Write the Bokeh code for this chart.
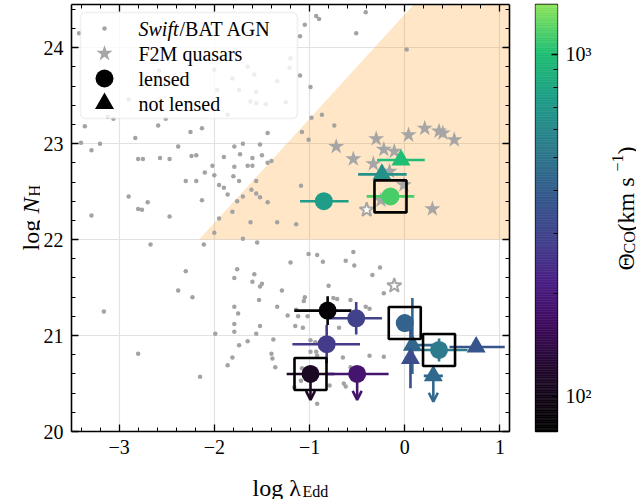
import numpy as np
from bokeh.plotting import figure
from bokeh.layouts import row, column
from bokeh.models import (ColumnDataSource, LinearAxis, SingleIntervalTicker, FixedTicker,
                          BoxAnnotation, Arrow, OpenHead, Range1d, CustomJSTickFormatter, Label)
from bokeh.core.properties import value
from bokeh.transform import log_cmap
from bokeh.embed import file_html
from bokeh.resources import INLINE

# ---------------- data ----------------
bat_x = [-3.42, -3.36, -3.40, -3.20, -3.29, -2.83, -2.59, -2.25, -2.13, -2.38, -1.79, -2.80, -2.75,
         -2.57, -2.47, -2.24, -2.19, -1.90, -1.79, -2.02, -2.10, -2.00, -1.80, -2.30, -2.19, -1.95,
         -1.90, -1.86, -2.13, -2.90, -2.70, -2.80, -2.76, -3.29, -2.47, -1.95, -2.58, -2.00, -1.81,
         -2.90, -3.12, -3.06, -2.51, -1.86, -1.97, -1.74, -1.65, -1.58, -1.20, -1.56, -1.34, -1.62,
         -1.56, -1.46, -1.25, -1.21, -0.93, -0.90, -1.05, -1.10, -0.41, -0.51, 0.02, -1.10, -0.99,
         -0.98, -0.87, -0.74, -1.08, -1.44, -1.01, -1.70, -1.52, -1.73, -1.50, -1.60, -1.65, -1.60,
         -1.44, -1.40, -1.74, -1.56, -1.61, -1.56, -1.52, -1.44, -1.09, -1.70, -1.76, -1.81, -1.62,
         -1.34, -1.14, -1.70, -2.00, -2.11, -1.55, -2.67, -2.30, -2.38, -2.23, -1.76, -1.79, -1.58,
         -1.60, -1.50, -1.52, -1.29, -1.20, -1.01, -0.92, -1.53, -1.79, -1.75, -1.34, -1.23, -1.12,
         -1.02, -1.05, -1.06, -1.15, -1.07, -1.79, -1.79, -1.52, -1.56, -1.99, -1.65, -1.74, -1.38,
         -1.81, -1.86, -1.40, -1.39, -1.36, -2.15, -0.99, -0.94, -0.90, -0.99, -0.93, -0.92, -1.08,
         -1.16, -1.09, -0.92, -3.16, -2.80, -0.86, -0.62, -0.54, -0.53, -0.26, -0.34, -0.80, -0.22,
         -0.75, -0.71, -0.57, -0.41, -0.37, -1.14, -0.69, -0.37, -0.22, -0.78, -0.65, -0.57, -0.64,
         -0.62, -0.79]
bat_y = [24.15, 23.18, 23.01, 23.00, 22.93, 23.06, 23.19, 23.12, 23.16, 22.97, 22.97, 22.84, 22.84,
         22.85, 22.84, 22.87, 22.88, 22.86, 22.76, 22.77, 22.70, 22.67, 22.66, 22.61, 22.61, 22.57,
         22.54, 22.47, 22.41, 22.45, 22.39, 22.32, 22.31, 22.25, 22.24, 22.22, 23.76, 23.77, 23.68,
         23.46, 23.28, 23.26, 23.26, 23.30, 23.56, 23.56, 23.80, 23.72, 23.89, 23.54, 23.65, 23.44,
         23.42, 23.41, 23.43, 23.79, 24.33, 24.30, 24.24, 24.12, 24.37, 24.15, 23.98, 23.71, 23.59,
         23.27, 23.30, 23.19, 23.12, 23.11, 23.04, 23.00, 22.99, 22.89, 22.88, 22.85, 22.77, 22.77,
         22.80, 22.82, 22.61, 22.61, 22.52, 22.48, 22.44, 22.39, 22.56, 22.45, 22.40, 22.29, 22.18,
         22.18, 22.16, 22.01, 22.07, 21.95, 21.97, 21.95, 21.67, 21.47, 21.40, 21.69, 21.60, 21.64,
         21.56, 21.54, 21.51, 21.47, 21.76, 21.85, 21.84, 21.37, 21.30, 21.23, 21.30, 21.21, 21.20,
         21.20, 21.40, 21.36, 21.10, 21.08, 21.12, 21.04, 21.10, 21.02, 21.02, 20.94, 20.90, 20.96,
         20.77, 20.69, 20.81, 20.76, 20.67, 20.57, 20.95, 20.93, 20.92, 20.83, 20.83, 20.79, 20.66,
         20.46, 20.53, 20.29, 21.25, 20.81, 21.77, 21.78, 21.87, 21.73, 21.71, 21.63, 21.52, 21.44,
         21.39, 21.38, 21.37, 21.30, 21.28, 21.27, 21.08, 20.79, 20.78, 20.85, 20.77, 20.67, 20.50,
         20.47, 20.48]

f2m_x = [-0.72, -0.54, -0.30, -0.22, -0.11, -0.33, 0.04, 0.21, 0.36, 0.40, 0.52, 0.29, -0.16, -0.01, -0.25]
f2m_y = [22.97, 22.84, 23.05, 22.94, 22.92, 22.79, 23.09, 23.16, 23.13, 23.11, 23.04, 22.32, 22.71, 22.57, 22.41]
f2m_open_x = [-0.40, -0.11]
f2m_open_y = [22.31, 21.52]

# lensed (circles)
len_x = [-0.81, -0.51, -0.82, -0.99, -0.50, 0.00, 0.36, -0.85, -0.15]
len_y = [21.26, 21.18, 20.91, 20.60, 20.60, 21.13, 20.85, 22.40, 22.45]
len_xlo = [0.35, 0.29, 0.36, 0.25, 0.33, 0.05, 0.32, 0.25, 0.25]
len_xhi = [0.25, 0.27, 0.35, 0.25, 0.33, 0.05, 0.30, 0.26, 0.25]
len_ylo = [0.15, 0.17, 0.20, 0.00, 0.00, 0.09, 0.12, 0.00, 0.00]
len_yhi = [0.15, 0.17, 0.20, 0.00, 0.00, 0.09, 0.12, 0.00, 0.00]
len_theta = [84, 290, 270, 110, 185, 420, 530, 740, 1150]
len_ulim = [False, False, False, True, True, False, False, False, False]
len_box = [False, False, False, True, False, True, True, False, True]

# not lensed (triangles)
nl_x = [-0.04, -0.24, 0.08, 0.06, 0.30, 0.75]
nl_y = [22.83, 22.68, 20.90, 20.76, 20.58, 20.88]
nl_xlo = [0.25, 0.25, 0.05, 0.00, 0.10, 0.28]
nl_xhi = [0.25, 0.26, 0.25, 0.00, 0.10, 0.30]
nl_ylo = [0.00, 0.00, 0.30, 0.31, 0.00, 0.00]
nl_yhi = [0.00, 0.00, 0.49, 0.33, 0.00, 0.00]
nl_theta = [1000, 660, 430, 330, 440, 365]
nl_ulim = [False, False, False, False, True, False]

# forbidden ("blow-out") region
region_x = [-2.16, 0.60, 1.5, 1.5]
region_y = [22.0, 25.0, 25.0, 22.0]

theta_low, theta_high = 79, 1395
cbar_major = [100, 1000]
cbar_minor = [200, 300, 400, 500, 600, 700, 800, 900]

# ---------------- style / layout ----------------
X0, X1 = -3.5, 1.1
Y0, Y1 = 20.0, 24.45
FONT = "Liberation Serif"
ULIM_LEN = 0.27
PAGE_W, PAGE_H = 636, 499
FH = 427
MT = 4
YLAB_W = 40
MAIN_BL, MAIN_FW, MAIN_BR = 31, 438, 4
MAIN_W = MAIN_BL + MAIN_FW + MAIN_BR
MAIN_BB = 33
MAIN_H = MT + FH + MAIN_BB
XLAB_H = PAGE_H - MAIN_H
CB_BL, CB_FW, CB_BR = 22, 22, 41
CB_W = CB_BL + CB_FW + CB_BR
CBLAB_W = PAGE_W - YLAB_W - MAIN_W - CB_W

anchor_t = [0.0, 0.06, 0.15, 0.25, 0.35, 0.44, 0.55, 0.66, 0.78, 0.89, 1.0]
anchor_c = ["#000000", "#0e0510", "#240a30", "#3f0c5e", "#4a1f85", "#433f8c", "#35598d",
            "#2d7a8c", "#1f9d88", "#1fbf72", "#8ae35a"]


def hex2rgb(h):
    return [int(h[i:i + 2], 16) for i in (1, 3, 5)]


rgb = np.array([hex2rgb(c) for c in anchor_c], float)
tt = np.linspace(0, 1, 256)
palette = ["#%02x%02x%02x" % tuple(int(round(np.interp(t, anchor_t, rgb[:, k]))) for k in range(3))
           for t in tt]
cmap = log_cmap("theta", palette, theta_low, theta_high)


def no_align(f):
    try:
        f.frame_align = False
    except Exception:
        pass
    return f


# ================= main panel =================
p = figure(width=MAIN_W, height=MAIN_H, x_range=Range1d(X0, X1), y_range=Range1d(Y0, Y1),
           output_backend="svg", toolbar_location=None, title=None,
           min_border_left=MAIN_BL, min_border_right=MAIN_BR, min_border_top=MT,
           min_border_bottom=MAIN_BB)
no_align(p)
p.outline_line_color = None

ticker = SingleIntervalTicker(interval=1, num_minor_ticks=5)
minus_fmt = CustomJSTickFormatter(code="return tick < 0 ? '\u2212' + Math.abs(tick) : tick.toFixed(0);")
blank_fmt = CustomJSTickFormatter(code="return '';")


def style_axis(ax, labels=True):
    ax.ticker = ticker
    ax.axis_line_width = 1.6
    ax.axis_line_color = "black"
    ax.major_tick_in = 7
    ax.major_tick_out = 0
    ax.minor_tick_in = 4
    ax.minor_tick_out = 0
    ax.major_tick_line_width = 1.3
    ax.minor_tick_line_width = 1.0
    ax.major_tick_line_color = "black"
    ax.minor_tick_line_color = "black"
    ax.major_label_text_font = FONT
    if labels:
        ax.major_label_text_font_size = "20px"
        ax.major_label_text_color = "black"
        ax.formatter = minus_fmt
    else:
        ax.major_label_text_font_size = "1px"
        ax.major_label_text_color = None
        ax.major_label_standoff = 0
        ax.formatter = blank_fmt


style_axis(p.xaxis[0])
style_axis(p.yaxis[0])
p.xaxis[0].major_label_standoff = 8
p.yaxis[0].major_label_standoff = 8
top_ax = LinearAxis()
right_ax = LinearAxis()
style_axis(top_ax, labels=False)
style_axis(right_ax, labels=False)
p.add_layout(top_ax, "above")
p.add_layout(right_ax, "right")
p.grid.ticker = ticker
p.grid.grid_line_color = "#e2e2e2"
p.grid.grid_line_width = 1.2

p.patch(region_x, region_y, fill_color="#ff8c00", fill_alpha=0.22, line_color=None)
p.scatter(bat_x, bat_y, size=4.5, color="#a3a3a3", line_color=None)
p.scatter(f2m_x, f2m_y, marker="star", size=17, fill_color="#a6a6a6", line_color=None)
p.scatter(f2m_open_x, f2m_open_y, marker="star", size=15, fill_color="white", line_color="#a6a6a6",
          line_width=2)


def make_source(x, y, xlo, xhi, ylo, yhi, th):
    x = np.array(x); y = np.array(y)
    return ColumnDataSource(dict(x=x, y=y, x0=x - np.array(xlo), x1=x + np.array(xhi),
                                 y0=y - np.array(ylo), y1=y + np.array(yhi), theta=th))


src_len = make_source(len_x, len_y, len_xlo, len_xhi, len_ylo, len_yhi, len_theta)
src_nl = make_source(nl_x, nl_y, nl_xlo, nl_xhi, nl_ylo, nl_yhi, nl_theta)
for src in (src_len, src_nl):
    p.segment(x0="x0", y0="y", x1="x1", y1="y", source=src, line_color=cmap, line_width=2.6)
    p.segment(x0="x", y0="y0", x1="x", y1="y1", source=src, line_color=cmap, line_width=2.6)
for xs, ys, th, ul in ((len_x, len_y, len_theta, len_ulim), (nl_x, nl_y, nl_theta, nl_ulim)):
    idx = [i for i, u in enumerate(ul) if u]
    s = ColumnDataSource(dict(x=[xs[i] for i in idx], y=[ys[i] for i in idx],
                              y_end=[ys[i] - ULIM_LEN for i in idx], theta=[th[i] for i in idx]))
    p.add_layout(Arrow(source=s, x_start="x", y_start="y", x_end="x", y_end="y_end",
                       line_color=cmap, line_width=2.6,
                       end=OpenHead(size=9, line_width=2.6, line_color=cmap)))
p.scatter("x", "y", source=src_nl, marker="triangle", size=19, fill_color=cmap, line_color=None)
p.scatter("x", "y", source=src_len, marker="circle", size=18, fill_color=cmap, line_color=None)
bx = [len_x[i] for i, b in enumerate(len_box) if b]
by = [len_y[i] for i, b in enumerate(len_box) if b]
p.scatter(bx, by, marker="square", size=32, fill_color=None, line_color="black", line_width=2.6)

# ---- legend (manual, for mixed-style text) ----
FRAME_L_PAGE = YLAB_W + MAIN_BL
FRAME_T_PAGE = MT


def px2x(px):
    return X0 + (px - FRAME_L_PAGE) / MAIN_FW * (X1 - X0)


def py2y(py):
    return Y1 - (py - FRAME_T_PAGE) / FH * (Y1 - Y0)


p.add_layout(BoxAnnotation(left=px2x(80), right=px2x(297), top=py2y(12), bottom=py2y(118),
                           fill_color="white", fill_alpha=0.8, line_color="#cccccc",
                           line_width=1.6, border_radius=5))
rows = [py2y(28), py2y(53), py2y(78), py2y(103)]
mx = px2x(104)
p.scatter([mx], [rows[0]], size=4.5, color="#a3a3a3", line_color=None, level="overlay")
p.scatter([mx], [rows[1]], marker="star", size=17, fill_color="#a6a6a6", line_color=None, level="overlay")
p.scatter([mx], [rows[2]], marker="circle", size=18, fill_color="black", line_color=None, level="overlay")
p.scatter([mx], [rows[3]], marker="triangle", size=19, fill_color="black", line_color=None, level="overlay")
tx = px2x(138)
lab_kw = dict(text_font=FONT, text_font_size="20px", text_baseline="middle", text_align="left",
              text_color="black", level="overlay")
p.add_layout(Label(x=tx, y=rows[0], text="Swift", text_font_style="italic", **lab_kw))
p.add_layout(Label(x=px2x(179), y=rows[0], text="/BAT AGN", **lab_kw))
p.add_layout(Label(x=tx, y=rows[1], text="F2M quasars", **lab_kw))
p.add_layout(Label(x=tx, y=rows[2], text="lensed", **lab_kw))
p.add_layout(Label(x=tx, y=rows[3], text="not lensed", **lab_kw))


# ================= text panels =================
def text_panel(w, h):
    f = figure(width=w, height=h, x_range=Range1d(0, w), y_range=Range1d(0, h),
               output_backend="svg", toolbar_location=None, x_axis_location=None,
               y_axis_location=None, min_border=0, title=None)
    no_align(f)
    f.grid.visible = False
    f.outline_line_color = None
    return f


def put(f, x, y, text, size, angle=0.0, style="normal"):
    f.text(x=[x], y=[y], text=[text], angle=angle, text_font=value(FONT),
           text_font_size=value(size), text_font_style=style, text_color="black",
           text_align="left", text_baseline="alphabetic")


ang = np.pi / 2
# y label "log N_H" (reads bottom-to-top)
ylab = text_panel(YLAB_W, PAGE_H)
put(ylab, 30, 249, "log ", "24px", ang)
put(ylab, 30, 286, "N", "24px", ang, "italic")
put(ylab, 34, 303, "H", "16px", ang)

# x label "log lambda_Edd"
xlab = text_panel(MAIN_W, XLAB_H)
xc = MAIN_BL + MAIN_FW / 2
put(xlab, xc - 38, 12, "log \u03bb", "24px")
put(xlab, xc + 12, 8, "Edd", "16px")

# ================= colour bar =================
cbf = figure(width=CB_W, height=PAGE_H, x_range=Range1d(0, 1),
             y_range=Range1d(theta_low, theta_high), y_axis_type="log",
             output_backend="svg", toolbar_location=None, x_axis_location=None, title=None,
             y_axis_location="right", min_border_left=CB_BL, min_border_right=CB_BR,
             min_border_top=MT, min_border_bottom=PAGE_H - MT - FH)
no_align(cbf)
cbf.grid.visible = False
edges = np.logspace(np.log10(theta_low), np.log10(theta_high), 257)
cb_src = ColumnDataSource(dict(bottom=edges[:-1], top=edges[1:],
                               theta=np.sqrt(edges[:-1] * edges[1:])))
cbf.quad(left=0, right=1, bottom="bottom", top="top", source=cb_src, fill_color=cmap,
         line_color=cmap, line_width=0.6)
cbf.outline_line_color = "black"
cbf.outline_line_width = 1.3
cax = cbf.yaxis[0]
cax.ticker = FixedTicker(ticks=cbar_major, minor_ticks=cbar_minor)
cax.formatter = CustomJSTickFormatter(code="""
    const e = Math.round(Math.log10(tick));
    const sup = {1: '\u00b9', 2: '\u00b2', 3: '\u00b3'};
    return '10' + sup[e];""")
cax.axis_line_color = None
cax.major_tick_in = 6
cax.major_tick_out = 0
cax.minor_tick_in = 4
cax.minor_tick_out = 0
cax.major_tick_line_color = "black"
cax.minor_tick_line_color = "black"
cax.major_tick_line_width = 1.3
cax.minor_tick_line_width = 1.0
cax.major_label_text_font = FONT
cax.major_label_text_font_size = "20px"
cax.major_label_text_color = "black"
cax.major_label_standoff = 8

# colour-bar label "Theta_CO (km s^-1)" (reads bottom-to-top)
cbl = text_panel(CBLAB_W, PAGE_H)
put(cbl, 27, 229, "\u0398", "24px", ang)
put(cbl, 31, 246, "CO", "16px", ang)
put(cbl, 27, 268, " (km s", "24px", ang)
put(cbl, 19, 328, "\u22121", "16px", ang)
put(cbl, 27, 345, ")", "24px", ang)

layout = row(ylab, column(p, xlab), cbf, cbl)
open("out.html", "w").write(file_html(layout, INLINE))
